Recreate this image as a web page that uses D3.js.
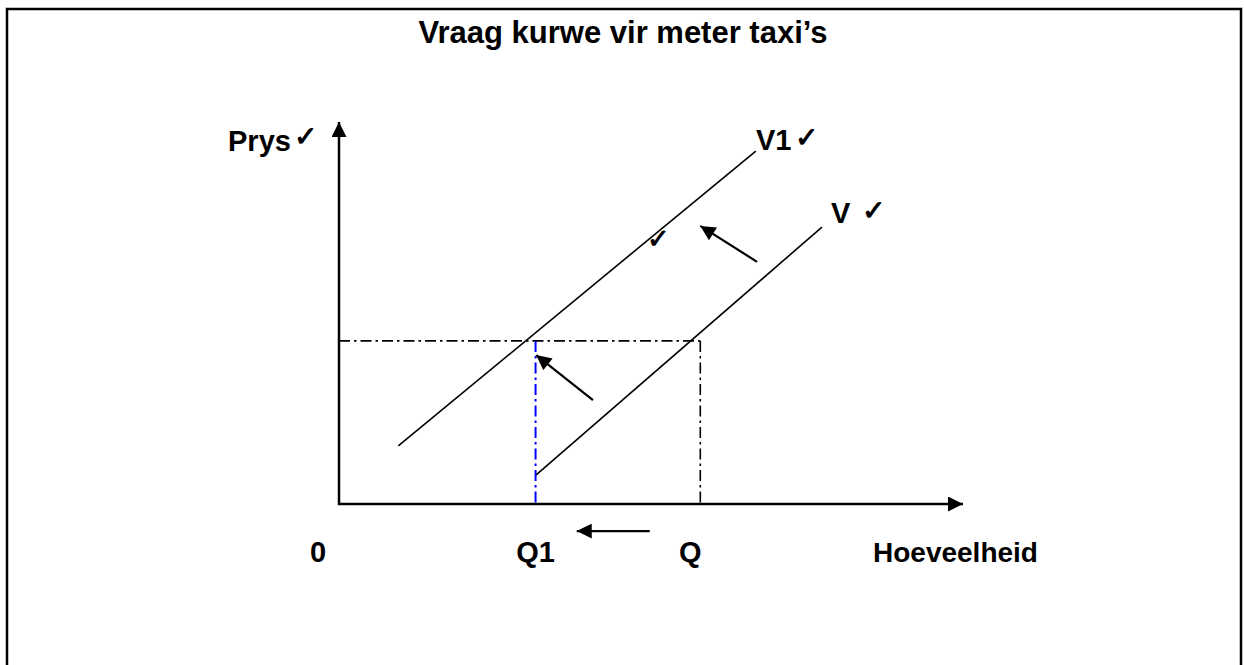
<!DOCTYPE html>
<html><head><meta charset="utf-8">
<script src="https://cdn.jsdelivr.net/npm/d3@7"></script>
<style>body{margin:0;background:#fff}svg{display:block}text{font-family:"Liberation Sans",Arial,sans-serif;font-weight:bold;fill:#000}</style>
</head><body><svg id="c" width="1244" height="665"></svg>
<script>
const title = "Vraag kurwe vir meter taxi’s";
const curveNames = ["V1", "V"];
const curveV1 = [[9.5, 15.2], [66.8, 92.4]];
const curveV = [[31.6, 7.6], [77.4, 72.5]];
const priceLevel = 42.7;
const quantities = [{name: "Q1", q: 31.5}, {name: "Q", q: 57.9}];
const shiftArrows = [[[67.0, 63.4], [57.9, 72.8]], [[40.7, 27.2], [31.6, 39.0]]];
const qArrow = [[49.8, -7.1], [38.1, -7.1]];
const axisLabels = {y: "Prys", x: "Hoeveelheid", origin: "0"};
const check = "\u2713";

const svg = d3.select("#c");
const x = d3.scaleLinear().domain([0, 100]).range([339, 963]);
const y = d3.scaleLinear().domain([0, 100]).range([504, 122]);

const defs = svg.append("defs");
defs.append("marker").attr("id", "ahs").attr("viewBox", "0 0 10 10")
  .attr("refX", 10).attr("refY", 5).attr("markerWidth", 16).attr("markerHeight", 15)
  .attr("markerUnits", "userSpaceOnUse").attr("orient", "auto")
  .append("path").attr("d", "M0,0 L10,5 L0,10 z").attr("fill", "#000");

// border
svg.append("rect").attr("x", 7).attr("y", 9).attr("width", 1234).attr("height", 700)
  .attr("fill", "none").attr("stroke", "#000").attr("stroke-width", 2.5);

svg.append("text").attr("x", 623).attr("y", 43).attr("text-anchor", "middle")
  .attr("font-size", 31).text(title);

// guides
const dash = "11,4,2.5,4";
svg.append("line").attr("x1", x(0)).attr("x2", x(quantities[1].q)).attr("y1", y(priceLevel)).attr("y2", y(priceLevel))
  .attr("stroke", "#000").attr("stroke-width", 1.6).attr("stroke-dasharray", dash);
svg.append("line").attr("x1", x(quantities[1].q)).attr("x2", x(quantities[1].q)).attr("y1", y(priceLevel)).attr("y2", y(0))
  .attr("stroke", "#000").attr("stroke-width", 1.6).attr("stroke-dasharray", dash);
svg.append("line").attr("x1", x(quantities[0].q)).attr("x2", x(quantities[0].q)).attr("y1", y(priceLevel)).attr("y2", y(0))
  .attr("stroke", "#0000ff").attr("stroke-width", 2).attr("stroke-dasharray", dash);

// axes
svg.append("line").attr("x1", x(0)).attr("y1", y(0) + 1).attr("x2", x(0)).attr("y2", y(100))
  .attr("stroke", "#000").attr("stroke-width", 2.5).attr("marker-end", "url(#ahs)");
svg.append("line").attr("x1", x(0) - 1).attr("y1", y(0)).attr("x2", x(100)).attr("y2", y(0))
  .attr("stroke", "#000").attr("stroke-width", 2.5).attr("marker-end", "url(#ahs)");

// curves
const line = d3.line().x(d => x(d[0])).y(d => y(d[1]));
[curveV1, curveV].forEach(c => svg.append("path").attr("d", line(c)).attr("fill", "none")
  .attr("stroke", "#000").attr("stroke-width", 1.6));

// arrows
shiftArrows.concat([qArrow]).forEach(a => svg.append("line")
  .attr("x1", x(a[0][0])).attr("y1", y(a[0][1])).attr("x2", x(a[1][0])).attr("y2", y(a[1][1]))
  .attr("stroke", "#000").attr("stroke-width", 2.2).attr("marker-end", "url(#ahs)"));

// labels
const fs = 29;
const chk = (px, py, size) => svg.append("text").attr("x", px).attr("y", py).attr("font-size", size)
  .attr("font-family", "DejaVu Sans").attr("font-weight", "normal").text(check);
svg.append("text").attr("x", 228).attr("y", 151).attr("font-size", fs).text(axisLabels.y);
chk(294, 146, 28);
svg.append("text").attr("x", 756).attr("y", 150).attr("font-size", fs).text(curveNames[0]);
chk(795, 147, 28);
svg.append("text").attr("x", 831).attr("y", 223).attr("font-size", fs).text(curveNames[1]);
chk(862, 220, 28);
chk(647, 248, 27);

svg.append("text").attr("x", 318).attr("y", 562).attr("text-anchor", "middle").attr("font-size", fs).text(axisLabels.origin);
quantities.forEach(d => svg.append("text").attr("x", x(d.q) + (d.name === "Q" ? -10 : 0)).attr("y", 562)
  .attr("text-anchor", "middle").attr("font-size", fs).text(d.name));
svg.append("text").attr("x", 873).attr("y", 562).attr("font-size", 28).text(axisLabels.x);
</script></body></html>
